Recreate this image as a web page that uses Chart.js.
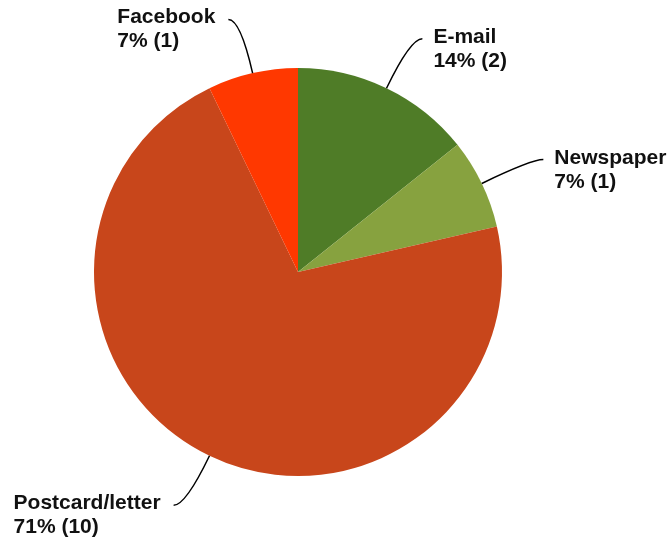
<!DOCTYPE html>
<html>
<head>
<meta charset="utf-8">
<script src="https://cdn.jsdelivr.net/npm/chart.js@4"></script>
<style>
  html, body { margin: 0; padding: 0; background: #fff; }
  #wrap { width: 669px; height: 544px; }
</style>
</head>
<body>
<div id="wrap"><canvas id="pieChart" width="669" height="544"></canvas></div>
<script>
const categories = ["E-mail", "Newspaper", "Postcard/letter", "Facebook"];
const counts = [2, 1, 10, 1];
const sliceColors = ["#4f7c27", "#87a23f", "#c8461b", "#ff3800"];

// labels with curved leader lines, placed from each arc's geometry
const leaderLabels = {
  id: "leaderLabels",
  afterDatasetsDraw(chart) {
    const ctx = chart.ctx;
    const meta = chart.getDatasetMeta(0);
    const total = counts.reduce((a, b) => a + b, 0);
    ctx.save();
    ctx.font = "bold 21px 'Liberation Sans', Arial, sans-serif";
    meta.data.forEach((arc, i) => {
      const mid = (arc.startAngle + arc.endAngle) / 2;
      const dx = Math.cos(mid);
      const dy = Math.sin(mid);
      const r = arc.outerRadius;
      const edge = { x: arc.x + dx * r, y: arc.y + dy * r };
      const elbow = { x: arc.x + dx * (r + 55), y: arc.y + dy * (r + 55) };
      const side = dx >= 0 ? 1 : -1;
      const end = { x: elbow.x + side * 12, y: elbow.y };

      ctx.strokeStyle = "#000";
      ctx.lineWidth = 1.5;
      ctx.beginPath();
      ctx.moveTo(edge.x, edge.y);
      ctx.quadraticCurveTo(elbow.x, elbow.y, end.x, end.y);
      ctx.stroke();

      const pct = Math.round((counts[i] / total) * 100);
      const lines = [categories[i], pct + "% (" + counts[i] + ")"];
      const w = Math.max(...lines.map((l) => ctx.measureText(l).width));
      const left = side > 0 ? end.x + 11 : end.x - 13 - w;
      ctx.fillStyle = "#111";
      ctx.textAlign = "left";
      ctx.textBaseline = "alphabetic";
      lines.forEach((l, k) => ctx.fillText(l, left, end.y + 4 + k * 24));
    });
    ctx.restore();
  },
};

new Chart(document.getElementById("pieChart"), {
  type: "pie",
  data: {
    labels: categories,
    datasets: [
      {
        data: counts,
        backgroundColor: sliceColors,
        borderWidth: 0,
      },
    ],
  },
  options: {
    responsive: false,
    animation: false,
    layout: { padding: { top: 68, bottom: 68, left: 94, right: 167 } },
    plugins: {
      legend: { display: false },
      tooltip: { enabled: false },
    },
  },
  plugins: [leaderLabels],
});
</script>
</body>
</html>
